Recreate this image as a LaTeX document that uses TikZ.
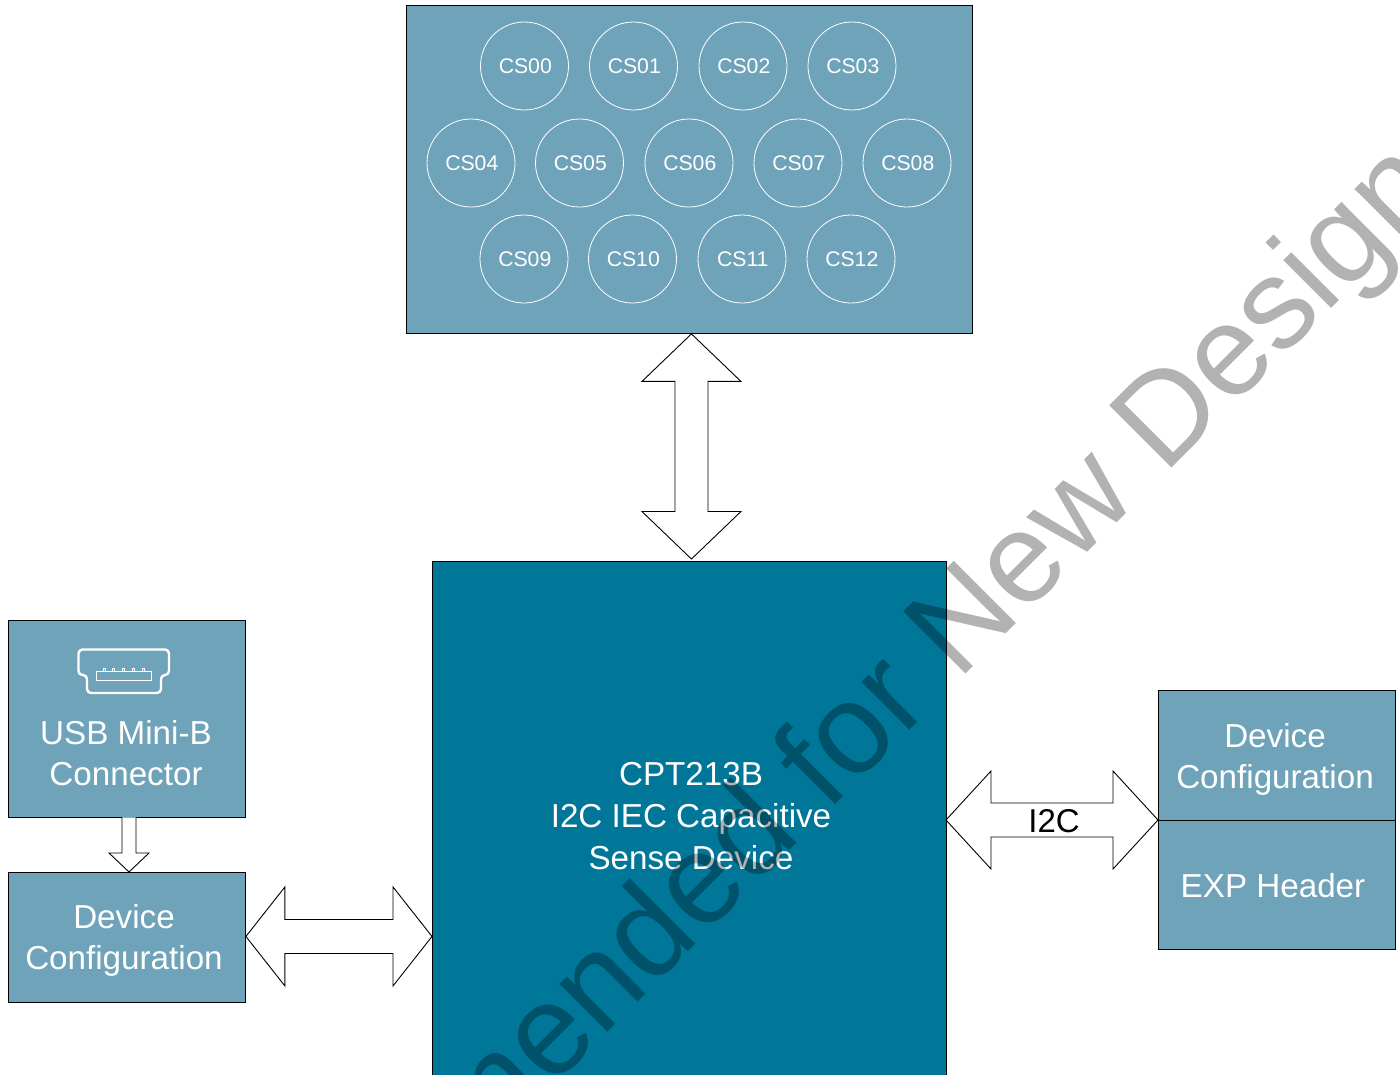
\documentclass[tikz,border=0pt]{standalone}
\usepackage{fontspec}
\setmainfont{Liberation Sans}
\usetikzlibrary{calc}
\definecolor{lightblock}{HTML}{6FA3B9}
\definecolor{darkblock}{HTML}{007698}
\tikzset{
  lightbox/.style={draw=black,line width=0.9pt,fill=lightblock,rectangle,inner sep=0pt,anchor=north west},
  darkbox/.style={draw=black,line width=0.9pt,fill=darkblock,rectangle,inner sep=0pt,anchor=north west},
  padc/.style={circle,draw=white,line width=0.8pt,minimum size=88pt,inner sep=0pt,text=white,font=\fontsize{21.2}{25}\selectfont},
  boxtext/.style={text=white,align=center,inner sep=0pt,font=\fontsize{33.2}{41.7}\selectfont},
  blockarrow/.style={draw=black,line width=0.9pt,fill=white,line join=miter},
  usbline/.style={draw=white,rounded corners=4pt,line join=round},
}
% tip a (left or top), tip b, head half width, shaft half width, head length
\newcommand{\vertarrow}[5]{\draw[blockarrow] (#1)
  -- ($(#1)+(#3,#5)$) -- ($(#1)+(#4,#5)$) -- ($(#2)+(#4,-#5)$) -- ($(#2)+(#3,-#5)$) -- (#2)
  -- ($(#2)+(-#3,-#5)$) -- ($(#2)+(-#4,-#5)$) -- ($(#1)+(-#4,#5)$) -- ($(#1)+(-#3,#5)$) -- cycle;}
\newcommand{\horzarrow}[5]{\draw[blockarrow] (#1)
  -- ($(#1)+(#5,-#3)$) -- ($(#1)+(#5,-#4)$) -- ($(#2)+(-#5,-#4)$) -- ($(#2)+(-#5,-#3)$) -- (#2)
  -- ($(#2)+(-#5,#3)$) -- ($(#2)+(-#5,#4)$) -- ($(#1)+(#5,#4)$) -- ($(#1)+(#5,#3)$) -- cycle;}
\begin{document}
\begin{tikzpicture}[x=1pt,y=-1pt]
\useasboundingbox (0,0) rectangle (1400,1074);
\clip (0,0) rectangle (1400,1074);
% blocks
\node[lightbox,minimum width=565.5pt,minimum height=328pt] (pads) at (406,5) {};
\node[darkbox,minimum width=514pt,minimum height=530pt] (chip) at (432,561) {};
\node[lightbox,minimum width=237.5pt,minimum height=196.5pt] (usb) at (7.5,620) {};
\node[lightbox,minimum width=237.5pt,minimum height=130pt] (cfgl) at (7.5,872) {};
\node[lightbox,minimum width=237pt,minimum height=130pt] (cfgr) at (1158,690) {};
\node[lightbox,minimum width=237pt,minimum height=129pt] (exp) at (1158,820) {};
% pads
\foreach \n/\t/\x/\y in {a/CS00/524.5/66,b/CS01/633.5/66,c/CS02/743/66,d/CS03/852/66,
  e/CS04/471/163,f/CS05/579.5/163,g/CS06/689/163,h/CS07/798/163,i/CS08/907/163,
  j/CS09/524/259,k/CS10/632.5/259,l/CS11/742/259,m/CS12/851/259}
  \node[padc] (\n) at (\x,\y) {\hspace*{1.6pt}\t};
% texts
\node[boxtext] (chiptext) at (691,816) {CPT213B\\I2C IEC Capacitive\\Sense Device};
\node[boxtext] (usbtext) at (126,753) {USB Mini-B\\Connector};
\node[boxtext] (cfgltext) at (124,940.5) {Device\\Configuration};
\node[boxtext] (cfgrtext) at (1275,759.5) {Device\\Configuration};
\node[boxtext] (exptext) at (1273,886) {EXP Header};
% usb icon
\draw[usbline,line width=2.4pt] (78.5,649.5) -- (169,649.5) -- (169,675) -- (161,675) -- (161,693) -- (87,693) -- (87,675) -- (78.5,675) -- cycle;
\draw[white,line width=0.9pt] (96.5,671) rectangle (151,680);
\foreach \x in {104.5,113.5,123.5,133.5,143}
  \draw[white,line width=0.7pt] (\x-1,668.5) rectangle (\x+1,671);
% connectors
\coordinate (t2) at ($(chip.north)+(2,-2)$);
\coordinate (t1) at (t2 |- pads.south);
\vertarrow{t1}{t2}{49.5}{16.5}{47.5}
\coordinate (u1) at (usb.south -| 129,0);
\coordinate (u2) at (cfgl.north -| 129,0);
\draw[blockarrow] (u1 -| 122,0) -- (122,853) -- (109,853) -- (u2) -- (149,853) -- (136,853) -- (u1 -| 136,0);
\coordinate (l1) at ($(cfgl.east)+(0,-1)$);
\coordinate (l2) at ($(chip.west |- cfgl.east)+(0,-1)$);
\horzarrow{l1}{l2}{49.5}{17}{39}
\coordinate (r1) at (946,820);
\coordinate (r2) at (exp.north west);
\horzarrow{r1}{r2}{49}{17}{45}
\node[text=black,inner sep=0pt,font=\fontsize{33}{40}\selectfont] (i2c) at (1054,821) {I2C};
% watermark
\node[rotate=45,anchor=base west,inner sep=0pt,text=black,text opacity=0.3,font=\fontsize{128}{128}\selectfont] (mark) at (475.6,1164.4) {mended for New Design};
\end{tikzpicture}
\end{document}
